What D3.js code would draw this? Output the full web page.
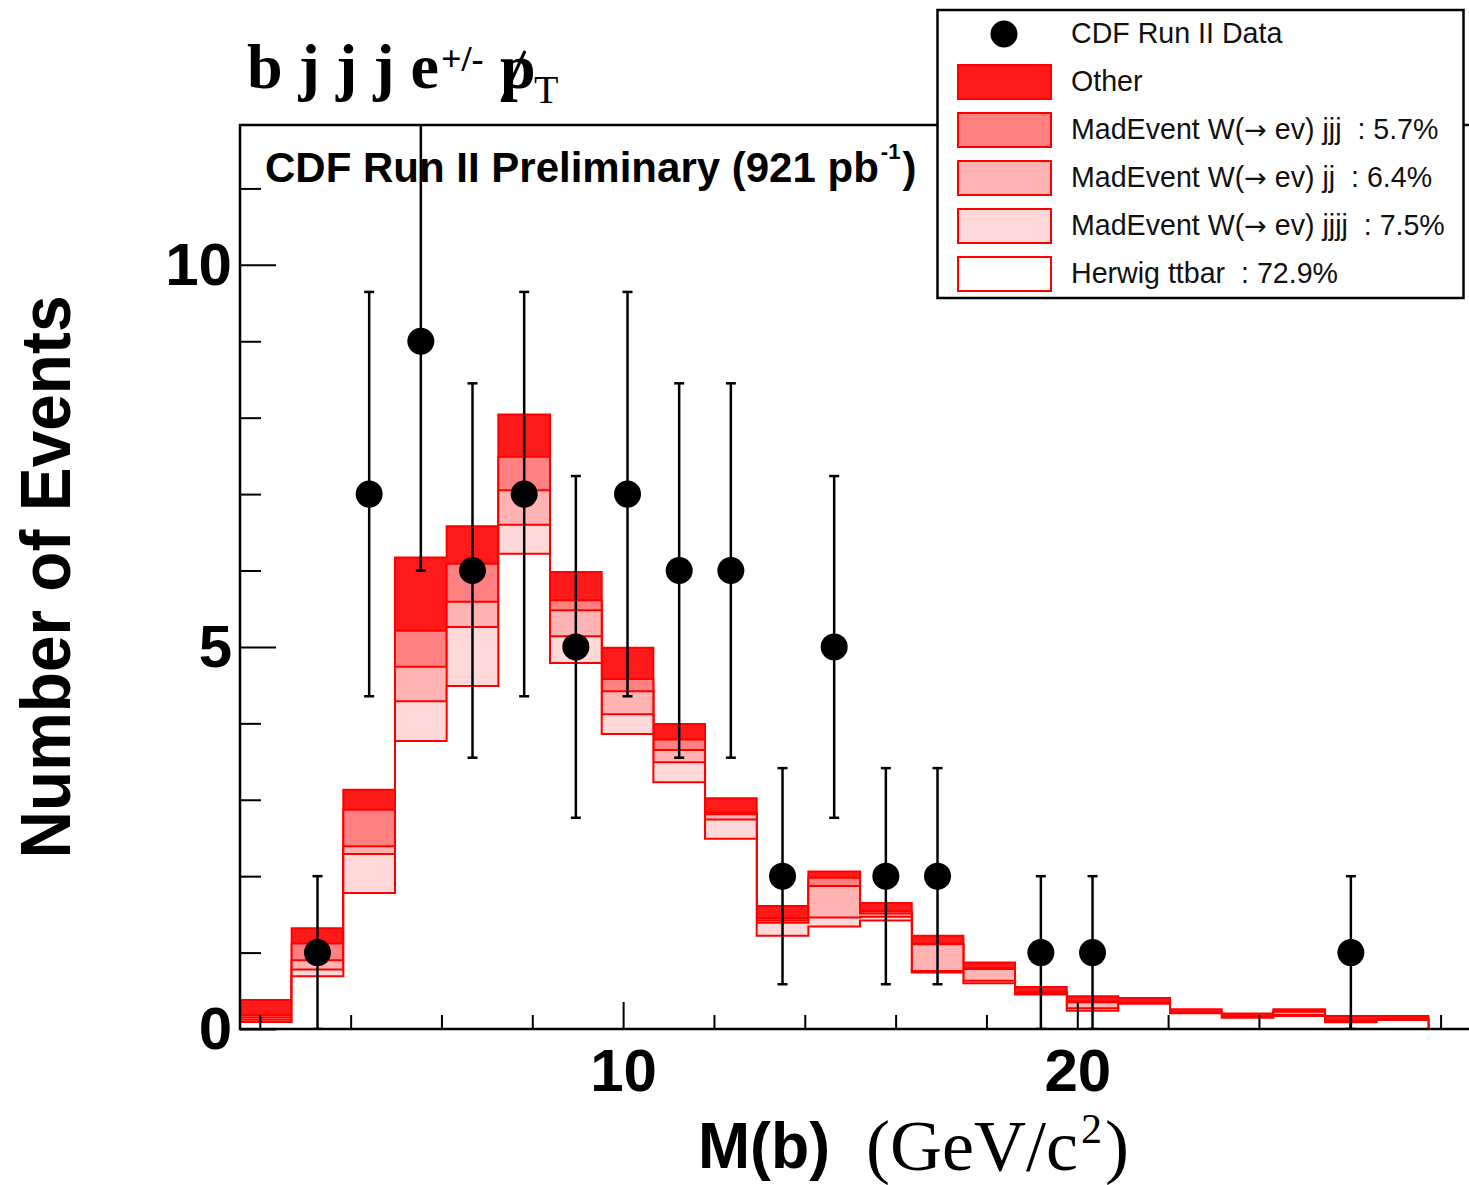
<!DOCTYPE html>
<html>
<head>
<meta charset="utf-8">
<script src="https://cdn.jsdelivr.net/npm/d3@7"></script>
<style>
  body { margin: 0; background: #fff; }
  svg { display: block; }
  text { white-space: pre; }
</style>
</head>
<body>
<svg id="chart"></svg>
<script>
// Histogram bins: 23 equal bins, low edge and width in GeV/c^2
const BIN_START = 1.564;
const BIN_WIDTH = 1.1377;
const N_BINS = 23;

// CDF Run II data, events per bin
const dataCounts = [0, 1, 7, 9, 6, 7, 5, 7, 6, 6, 2, 5, 2, 2, 0, 1, 1, 0, 0, 0, 0, 1, 0];

// Stacked expectations per bin (bottom to top)
const ttbar = [0.09, 0.69, 1.78, 3.77, 4.49, 6.22, 4.79, 3.86, 3.23, 2.49, 1.22, 1.34, 1.42, 0.74, 0.60, 0.45, 0.24, 0.33, 0.205, 0.148, 0.17, 0.089, 0.118];
const wjjjj = [0.03, 0.09, 0.51, 0.52, 0.77, 0.38, 0.35, 0.26, 0.26, 0.25, 0.17, 0.12, 0.05, 0.02, 0.03, 0.01, 0.03, 0.005, 0.005, 0.005, 0.013, 0.005, 0.005];
const wjj = [0.03, 0.12, 0.10, 0.45, 0.33, 0.45, 0.34, 0.30, 0.16, 0.07, 0.03, 0.41, 0.04, 0.35, 0.155, 0.01, 0.08, 0.005, 0.005, 0.005, 0.043, 0.005, 0.005];
const wjjj = [0.03, 0.22, 0.48, 0.47, 0.50, 0.44, 0.13, 0.16, 0.14, 0.02, 0.03, 0.11, 0.03, 0.01, 0.01, 0.01, 0.01, 0.005, 0.005, 0.005, 0.002, 0.005, 0.005];
const other = [0.20, 0.20, 0.26, 0.96, 0.49, 0.55, 0.37, 0.41, 0.20, 0.19, 0.16, 0.08, 0.11, 0.10, 0.075, 0.07, 0.07, 0.06, 0.04, 0.04, 0.032, 0.066, 0.037];

const stackKeys = ["ttbar", "wjjjj", "wjj", "wjjj", "other"];
const stackColors = { ttbar: "#ffffff", wjjjj: "#ffd9d9", wjj: "#ffb3b3", wjjj: "#ff8080", other: "#ff1a1a" };

// Legend, top to bottom
const legendLabels = [
  "CDF Run II Data",
  "Other",
  "MadEvent W(\u2192 ev) jjj  : 5.7%",
  "MadEvent W(\u2192 ev) jj  : 6.4%",
  "MadEvent W(\u2192 ev) jjjj  : 7.5%",
  "Herwig ttbar  : 72.9%"
];
const legendKeys = ["data", "other", "wjjj", "wjj", "wjjjj", "ttbar"];

const xMinorTicks = [2, 4, 6, 8, 12, 14, 16, 18, 22, 24, 26, 28];
const xMajorTicks = [10, 20];
const yMinorTicks = [1, 2, 3, 4, 6, 7, 8, 9, 11];
const yMajorTicks = [0, 5, 10];

const width = 1469;
const height = 1185;
const margin = { top: 125, left: 240, bottom: 1029, right: 1486 };
const SANS = "'Liberation Sans', Arial, Helvetica, sans-serif";
const SERIF = "'Liberation Serif', 'Times New Roman', serif";

const svg = d3.select("#chart").attr("width", width).attr("height", height);

const x = d3.scaleLinear().domain([BIN_START, 29.0]).range([margin.left, margin.right]);
const y = d3.scaleLinear().domain([0, 11.83]).range([margin.bottom, margin.top]);

const edges = d3.range(N_BINS + 1).map(i => BIN_START + i * BIN_WIDTH);
const rows = edges.slice(0, N_BINS).map((lo, i) => ({
  lo,
  ttbar: ttbar[i],
  wjjjj: wjjjj[i],
  wjj: wjj[i],
  wjjj: wjjj[i],
  other: other[i]
}));

const series = d3.stack().keys(stackKeys)(rows);

svg.append("defs").append("clipPath").attr("id", "plot-clip")
  .append("rect")
  .attr("x", margin.left).attr("y", margin.top)
  .attr("width", margin.right - margin.left).attr("height", margin.bottom - margin.top);

// title above the frame
const title = svg.append("g").attr("font-family", SERIF).attr("font-weight", "bold");
title.append("text").attr("x", 247).attr("y", 88).attr("font-size", 64).text("b j j j e");
title.append("text").attr("x", 441).attr("y", 71).attr("font-size", 36).text("+/-");
title.append("text").attr("x", 500).attr("y", 88).attr("font-size", 64).text("p");
title.append("line")
  .attr("x1", 502).attr("y1", 101).attr("x2", 525).attr("y2", 51)
  .attr("stroke", "#000").attr("stroke-width", 3);
title.append("text").attr("x", 534).attr("y", 103).attr("font-size", 40).attr("font-weight", "normal").text("T");

// Stacked histogram: each cumulative outline drawn from the top down
const stepArea = d3.area()
  .curve(d3.curveStepAfter)
  .x(d => x(d.x))
  .y0(y(0))
  .y1(d => y(d.v));

const plot = svg.append("g").attr("clip-path", "url(#plot-clip)");

// preliminary label sits inside the frame
const label = svg.append("text")
  .attr("x", 265).attr("y", 182)
  .attr("font-family", SANS).attr("font-weight", "bold").attr("font-size", 42);
label.append("tspan").text("CDF Run II Preliminary (921 pb");
label.append("tspan").attr("font-size", 22).attr("dy", -23).attr("dx", 2).text("-1");
label.append("tspan").attr("dy", 23).attr("dx", 2).text(")");

series.slice().reverse().forEach(s => {
  const pts = s.map((d, i) => ({ x: edges[i], v: d[1] }));
  pts.push({ x: edges[N_BINS], v: s[N_BINS - 1][1] });
  plot.append("path")
    .datum(pts)
    .attr("d", stepArea)
    .attr("fill", stackColors[s.key])
    .attr("stroke", "#ff0000")
    .attr("stroke-width", 2);
});

// Data points with Poisson errors
const points = dataCounts
  .map((n, i) => ({ n, cx: BIN_START + (i + 0.5) * BIN_WIDTH }))
  .filter(d => d.n > 0);

const errs = plot.append("g").attr("stroke", "#000").attr("stroke-width", 2.5);
points.forEach(d => {
  const e = Math.sqrt(d.n);
  const px = x(d.cx);
  errs.append("line").attr("x1", px).attr("x2", px).attr("y1", y(d.n - e)).attr("y2", y(d.n + e));
  [d.n - e, d.n + e].forEach(v => {
    errs.append("line").attr("x1", px - 5).attr("x2", px + 5).attr("y1", y(v)).attr("y2", y(v));
  });
});

plot.append("g")
  .selectAll("circle")
  .data(points)
  .join("circle")
  .attr("cx", d => x(d.cx))
  .attr("cy", d => y(d.n))
  .attr("r", 13.5)
  .attr("fill", "#000");

// Axes (ticks inside the frame)
const tickStyle = g => {
  g.select(".domain").remove();
  g.selectAll(".tick line").attr("stroke", "#000").attr("stroke-width", 2);
  g.selectAll(".tick text")
    .attr("font-family", SANS)
    .attr("font-weight", "bold")
    .attr("font-size", 60)
    .attr("fill", "#000");
};

svg.append("g")
  .attr("transform", `translate(${margin.left},0)`)
  .call(d3.axisLeft(y).tickValues(yMinorTicks).tickSize(-21).tickFormat(""))
  .call(tickStyle);
svg.append("g")
  .attr("transform", `translate(${margin.left},0)`)
  .call(d3.axisLeft(y).tickValues(yMajorTicks).tickSize(-36).tickPadding(8).tickFormat(d3.format("d")))
  .call(tickStyle);

svg.append("g")
  .attr("transform", `translate(0,${margin.bottom})`)
  .call(d3.axisBottom(x).tickValues(xMinorTicks).tickSize(-14).tickFormat(""))
  .call(tickStyle);
svg.append("g")
  .attr("transform", `translate(0,${margin.bottom})`)
  .call(d3.axisBottom(x).tickValues(xMajorTicks).tickSize(-27).tickPadding(19).tickFormat(d3.format("d")))
  .call(tickStyle);

// frame: left, top and bottom edges
svg.append("path")
  .attr("d", `M${margin.right},${margin.top}H${margin.left}V${margin.bottom}H${margin.right}`)
  .attr("fill", "none")
  .attr("stroke", "#000")
  .attr("stroke-width", 2.5);

// Axis titles
svg.append("text")
  .attr("transform", "translate(70,577) rotate(-90)")
  .attr("text-anchor", "middle")
  .attr("font-family", SANS)
  .attr("font-weight", "bold")
  .attr("font-size", 70)
  .attr("textLength", 563)
  .attr("lengthAdjust", "spacingAndGlyphs")
  .text("Number of Events");

svg.append("text")
  .attr("x", 698).attr("y", 1168)
  .attr("font-family", SANS).attr("font-weight", "bold").attr("font-size", 64)
  .attr("textLength", 132).attr("lengthAdjust", "spacingAndGlyphs")
  .text("M(b)");
const unit = svg.append("g").attr("font-family", SERIF);
unit.append("text").attr("x", 866).attr("y", 1170).attr("font-size", 72).text("(GeV/c");
unit.append("text").attr("x", 1081).attr("y", 1143).attr("font-size", 42).text("2");
unit.append("text").attr("x", 1105).attr("y", 1170).attr("font-size", 72).text(")");

// Legend
const legend = svg.append("g");
legend.append("rect")
  .attr("x", 937.5).attr("y", 10)
  .attr("width", 526).attr("height", 288)
  .attr("fill", "#fff").attr("stroke", "#000").attr("stroke-width", 2.5);

const rowH = 48;
const entries = legend.selectAll("g.entry")
  .data(legendKeys.map((k, i) => ({ key: k, label: legendLabels[i], cy: 10 + rowH * (i + 0.5) })))
  .join("g")
  .attr("class", "entry");

entries.each(function (d) {
  const g = d3.select(this);
  if (d.key === "data") {
    g.append("circle").attr("cx", 1004).attr("cy", d.cy).attr("r", 13.5).attr("fill", "#000");
  } else {
    g.append("rect")
      .attr("x", 958).attr("y", d.cy - 17)
      .attr("width", 93).attr("height", 34)
      .attr("fill", stackColors[d.key])
      .attr("stroke", "#ff0000").attr("stroke-width", 2);
  }
  const t = g.append("text")
    .attr("x", 1071).attr("y", d.cy + 9)
    .attr("font-family", SANS).attr("font-size", 28.6).attr("fill", "#111");
  // the arrow glyph is tiny in Liberation Sans, borrow DejaVu's
  d.label.split("\u2192").forEach((part, j) => {
    if (j > 0) t.append("tspan").attr("font-family", "'DejaVu Sans'").attr("font-size", 27).text("\u2192");
    t.append("tspan").text(part);
  });
});
</script>
</body>
</html>
